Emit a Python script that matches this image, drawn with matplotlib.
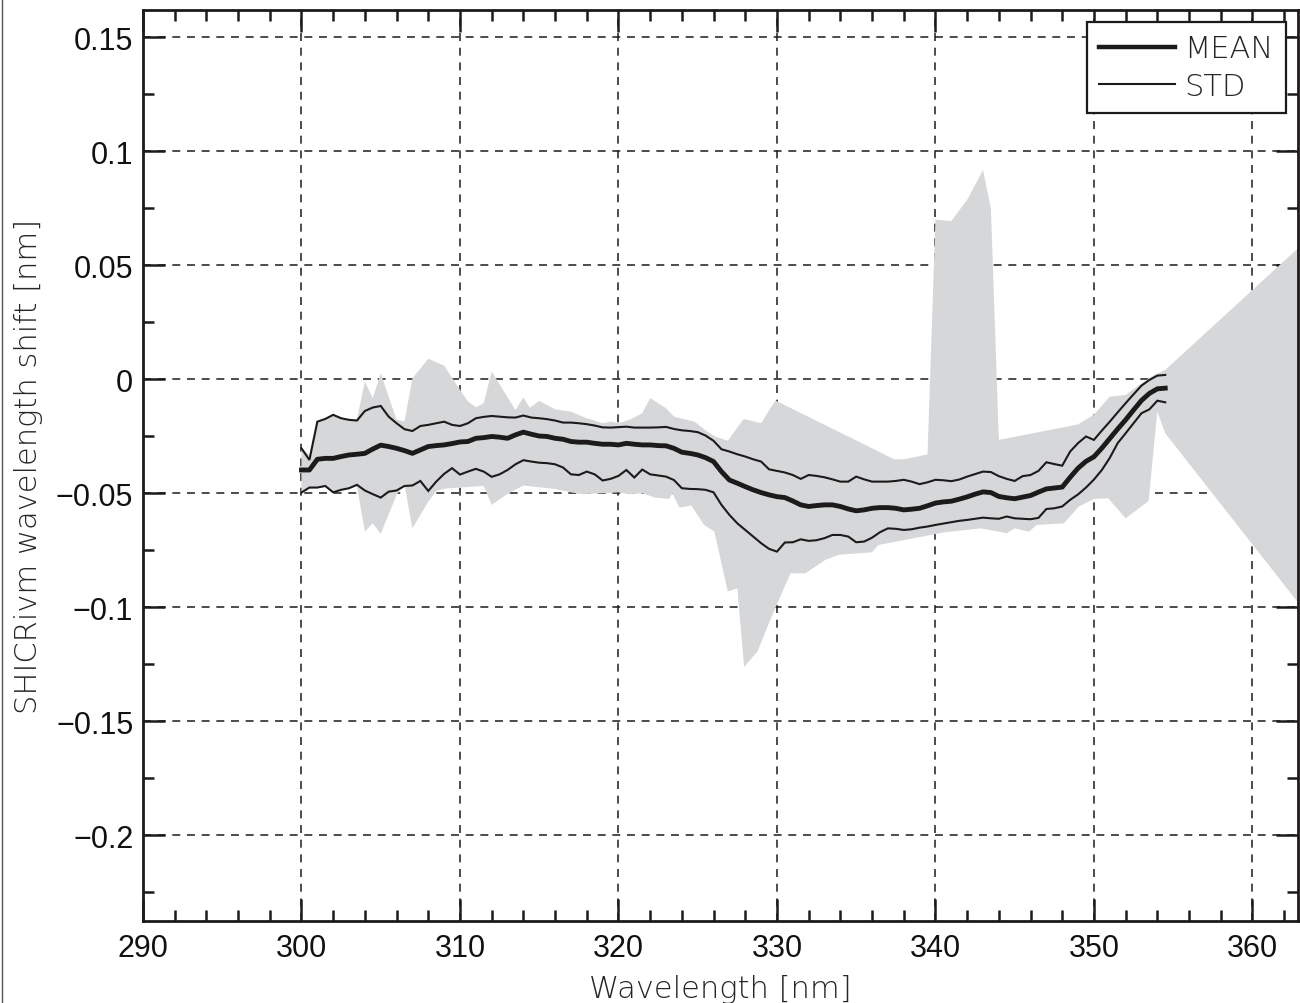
import numpy as np
import matplotlib
matplotlib.use("Agg")
import matplotlib.pyplot as plt
from matplotlib.lines import Line2D
from matplotlib.ticker import MultipleLocator, FuncFormatter

# Wavelength grid of the shift retrieval (nm)
wavelength = np.arange(300.0, 354.51, 0.5)

# Mean wavelength shift (nm)
shift_mean = [
    -0.0398, -0.0398, -0.0351, -0.0347, -0.0347, -0.0339, -0.0332, -0.0329, -0.0325, -0.0306,
    -0.0289, -0.0295, -0.0303, -0.0313, -0.0325, -0.0310, -0.0295, -0.0291, -0.0288, -0.0282,
    -0.0275, -0.0273, -0.0259, -0.0256, -0.0251, -0.0254, -0.0259, -0.0244, -0.0232, -0.0241,
    -0.0249, -0.0251, -0.0259, -0.0263, -0.0273, -0.0276, -0.0276, -0.0281, -0.0285, -0.0285,
    -0.0288, -0.0281, -0.0285, -0.0288, -0.0288, -0.0291, -0.0292, -0.0303, -0.0320, -0.0325,
    -0.0332, -0.0344, -0.0361, -0.0405, -0.0442, -0.0456, -0.0471, -0.0485, -0.0497, -0.0507,
    -0.0515, -0.0519, -0.0534, -0.0551, -0.0558, -0.0554, -0.0551, -0.0551, -0.0558, -0.0569,
    -0.0577, -0.0573, -0.0566, -0.0563, -0.0563, -0.0566, -0.0573, -0.0570, -0.0566, -0.0555,
    -0.0543, -0.0538, -0.0535, -0.0526, -0.0516, -0.0504, -0.0494, -0.0497, -0.0514, -0.0520,
    -0.0524, -0.0517, -0.0510, -0.0495, -0.0481, -0.0477, -0.0473, -0.0430, -0.0390, -0.0360,
    -0.0340, -0.0302, -0.0260, -0.0218, -0.0178, -0.0135, -0.0093, -0.0062, -0.0042, -0.0039,
]

# Mean + one standard deviation (nm)
shift_std_upper = [
    -0.0303, -0.0354, -0.0186, -0.0174, -0.0156, -0.0171, -0.0178, -0.0181, -0.0139, -0.0124,
    -0.0117, -0.0164, -0.0193, -0.0219, -0.0227, -0.0205, -0.0200, -0.0193, -0.0186, -0.0200,
    -0.0205, -0.0193, -0.0171, -0.0165, -0.0161, -0.0164, -0.0167, -0.0168, -0.0159, -0.0168,
    -0.0171, -0.0175, -0.0181, -0.0190, -0.0190, -0.0193, -0.0197, -0.0203, -0.0211, -0.0212,
    -0.0210, -0.0208, -0.0212, -0.0212, -0.0212, -0.0211, -0.0209, -0.0218, -0.0224, -0.0227,
    -0.0232, -0.0247, -0.0270, -0.0307, -0.0317, -0.0329, -0.0339, -0.0351, -0.0361, -0.0395,
    -0.0402, -0.0409, -0.0420, -0.0437, -0.0420, -0.0424, -0.0430, -0.0439, -0.0449, -0.0449,
    -0.0427, -0.0439, -0.0449, -0.0449, -0.0449, -0.0446, -0.0441, -0.0449, -0.0460, -0.0452,
    -0.0441, -0.0443, -0.0447, -0.0440, -0.0427, -0.0416, -0.0405, -0.0407, -0.0425, -0.0437,
    -0.0446, -0.0425, -0.0420, -0.0402, -0.0364, -0.0372, -0.0379, -0.0317, -0.0280, -0.0251,
    -0.0266, -0.0225, -0.0186, -0.0145, -0.0105, -0.0066, -0.0028, -0.0003, 0.0016, 0.0019,
]

# Mean - one standard deviation (nm)
shift_std_lower = [
    -0.0497, -0.0475, -0.0475, -0.0468, -0.0496, -0.0485, -0.0478, -0.0463, -0.0488, -0.0504,
    -0.0519, -0.0493, -0.0488, -0.0468, -0.0466, -0.0446, -0.0490, -0.0449, -0.0415, -0.0390,
    -0.0418, -0.0405, -0.0393, -0.0405, -0.0428, -0.0417, -0.0398, -0.0373, -0.0355, -0.0361,
    -0.0366, -0.0368, -0.0373, -0.0387, -0.0417, -0.0420, -0.0405, -0.0417, -0.0444, -0.0437,
    -0.0424, -0.0398, -0.0431, -0.0396, -0.0417, -0.0422, -0.0427, -0.0442, -0.0478, -0.0481,
    -0.0482, -0.0485, -0.0496, -0.0551, -0.0595, -0.0632, -0.0661, -0.0690, -0.0719, -0.0744,
    -0.0756, -0.0716, -0.0715, -0.0702, -0.0709, -0.0706, -0.0697, -0.0683, -0.0683, -0.0690,
    -0.0715, -0.0712, -0.0695, -0.0671, -0.0654, -0.0656, -0.0661, -0.0658, -0.0651, -0.0646,
    -0.0639, -0.0633, -0.0627, -0.0621, -0.0617, -0.0612, -0.0607, -0.0610, -0.0612, -0.0602,
    -0.0610, -0.0612, -0.0614, -0.0608, -0.0569, -0.0566, -0.0558, -0.0529, -0.0505, -0.0475,
    -0.0440, -0.0398, -0.0345, -0.0280, -0.0237, -0.0193, -0.0149, -0.0132, -0.0094, -0.0101,
]

# Maximum shift envelope (nm)
env_max_wl = [
    300.0, 300.5, 301.0, 301.5, 302.0, 302.5, 303.0, 303.5, 304.0, 304.5, 305.0, 306.0, 306.5,
    307.0, 308.0, 309.0, 309.8, 310.5, 311.0, 311.5, 312.0, 313.5, 314.0, 314.4, 315.0, 316.0,
    317.0, 318.0, 319.0, 319.5, 320.0, 320.7, 321.5, 322.0, 323.0, 323.5, 324.8, 325.6, 326.1,
    326.9, 327.9, 329.0, 329.9, 337.4, 338.0, 339.5, 340.0, 341.0, 342.0, 343.0, 343.5, 344.0,
    349.0, 350.0, 351.0, 352.0, 353.0, 353.8, 354.5, 370.0,
]
env_max = [
    -0.0303, -0.0330, -0.0186, -0.0174, -0.0156, -0.0171, -0.0178, -0.0175, -0.0010, -0.0083,
    0.0026, -0.0178, -0.0185, 0.0004, 0.0090, 0.0060, -0.0025, -0.0097, -0.0123, -0.0105,
    0.0034, -0.0135, -0.0080, -0.0125, -0.0095, -0.0132, -0.0142, -0.0171, -0.0193, -0.0186,
    -0.0193, -0.0178, -0.0149, -0.0083, -0.0127, -0.0164, -0.0186, -0.0230, -0.0251, -0.0270,
    -0.0174, -0.0193, -0.0093, -0.0351, -0.0351, -0.0330, 0.0700, 0.0694, 0.0787, 0.0918,
    0.0750, -0.0266, -0.0198, -0.0156, -0.0076, -0.0069, -0.0018, 0.0019, 0.0041, 0.1028,
]

# Minimum shift envelope (nm)
env_min_wl = [
    300.0, 300.5, 301.0, 301.5, 302.0, 302.5, 303.0, 303.5, 304.0, 304.5, 305.0, 306.0, 306.5,
    307.0, 308.0, 308.5, 309.0, 310.0, 311.0, 311.5, 312.0, 312.9, 314.0, 315.0, 316.0, 317.0,
    317.7, 319.0, 320.0, 320.7, 321.5, 322.3, 323.2, 323.4, 323.85, 324.6, 325.4, 326.05, 326.9,
    327.5, 327.93, 328.77, 329.7, 330.86, 331.8, 333.06, 333.9, 336.0, 336.4, 340.6, 342.85,
    344.5, 345.0, 345.9, 346.4, 348.1, 349.05, 350.0, 350.9, 352.0, 353.45, 354.0, 354.5, 370.0,
]
env_min = [
    -0.0497, -0.0480, -0.0478, -0.0470, -0.0498, -0.0487, -0.0480, -0.0470, -0.0668, -0.0632,
    -0.0678, -0.0507, -0.0463, -0.0654, -0.0537, -0.0490, -0.0480, -0.0475, -0.0470, -0.0468,
    -0.0551, -0.0507, -0.0466, -0.0474, -0.0481, -0.0496, -0.0504, -0.0500, -0.0496, -0.0504,
    -0.0500, -0.0519, -0.0525, -0.0500, -0.0563, -0.0554, -0.0639, -0.0668, -0.0931, -0.0917,
    -0.1262, -0.1194, -0.1035, -0.0851, -0.0851, -0.0792, -0.0770, -0.0759, -0.0727, -0.0671,
    -0.0654, -0.0675, -0.0654, -0.0668, -0.0639, -0.0632, -0.0558, -0.0525, -0.0522, -0.0610,
    -0.0534, -0.0142, -0.0237, -0.1610,
]

x_ticks = [290, 300, 310, 320, 330, 340, 350, 360]
y_ticks = [0.15, 0.1, 0.05, 0, -0.05, -0.1, -0.15, -0.2]

ink = "#1c1a1b"
text_ink = "#262425"
band_color = "#d6d7d9"

fig = plt.figure(figsize=(13.0, 10.04), dpi=100)
ax = fig.add_axes([0.1100, 0.0820, 0.8885, 0.9073])
ax.set_axisbelow(True)

# Min/max envelope as one closed polygon
poly_x = list(env_max_wl) + list(env_min_wl[::-1])
poly_y = list(env_max) + list(env_min[::-1])
ax.fill(poly_x, poly_y, color=band_color, lw=0, zorder=1)

ax.plot(wavelength, shift_std_upper, color=ink, lw=1.5, zorder=3,
        solid_joinstyle="miter", label="STD")
ax.plot(wavelength, shift_std_lower, color=ink, lw=1.5, zorder=3,
        solid_joinstyle="miter")
ax.plot(wavelength, shift_mean, color=ink, lw=3.5, zorder=4, label="MEAN")

ax.set_xlim(290.1, 362.88)
ax.set_ylim(-0.2375, 0.1621)
ax.set_xticks(x_ticks)
ax.set_yticks(y_ticks)
ax.xaxis.set_minor_locator(MultipleLocator(2))
ax.yaxis.set_minor_locator(MultipleLocator(0.025))

def fmt_y(v, pos):
    s = f"{v:g}"
    return s.replace("-", "\u2212")

ax.yaxis.set_major_formatter(FuncFormatter(fmt_y))

ax.grid(True, which="major", color=ink, lw=1.1, linestyle=(0, (5.2, 4.4)))

ax.tick_params(which="both", direction="in", top=True, right=True,
               color=ink, width=1.8)
ax.tick_params(which="major", length=16)
ax.tick_params(which="minor", length=8)
ax.tick_params(axis="x", which="major", pad=9)
ax.tick_params(axis="y", which="major", pad=7)
for lab in ax.get_xticklabels() + ax.get_yticklabels():
    lab.set_fontfamily("Liberation Sans")
    lab.set_fontsize(22)
    lab.set_color("#111111")

for sp in ax.spines.values():
    sp.set_linewidth(2.0)
    sp.set_color(ink)

label_font = dict(family="DejaVu Sans", size=22, weight="light", color=text_ink)
ax.set_xlabel("Wavelength [nm]", labelpad=8, **label_font)
ax.set_ylabel("SHICRivm wavelength shift [nm]", labelpad=9, **label_font)

handles = [Line2D([], [], color=ink, lw=3.2), Line2D([], [], color=ink, lw=1.5)]
leg = ax.legend(handles, ["MEAN", "STD"], loc="upper right",
                bbox_to_anchor=(0.9896, 0.9865), borderaxespad=0,
                fancybox=False, framealpha=1, edgecolor=ink,
                prop=dict(family="DejaVu Sans", size=22, weight="light"),
                handlelength=2.5, handletextpad=0.3, borderpad=0.4,
                labelspacing=0.28)
leg.get_frame().set_linewidth(1.6)
for t in leg.get_texts():
    t.set_color(text_ink)

# Thin frame line along the left edge of the canvas
fig.add_artist(Line2D([0.0015, 0.0015], [0, 1], transform=fig.transFigure,
                      color="#555555", lw=1.0))

fig.savefig("out.png", dpi=100)
